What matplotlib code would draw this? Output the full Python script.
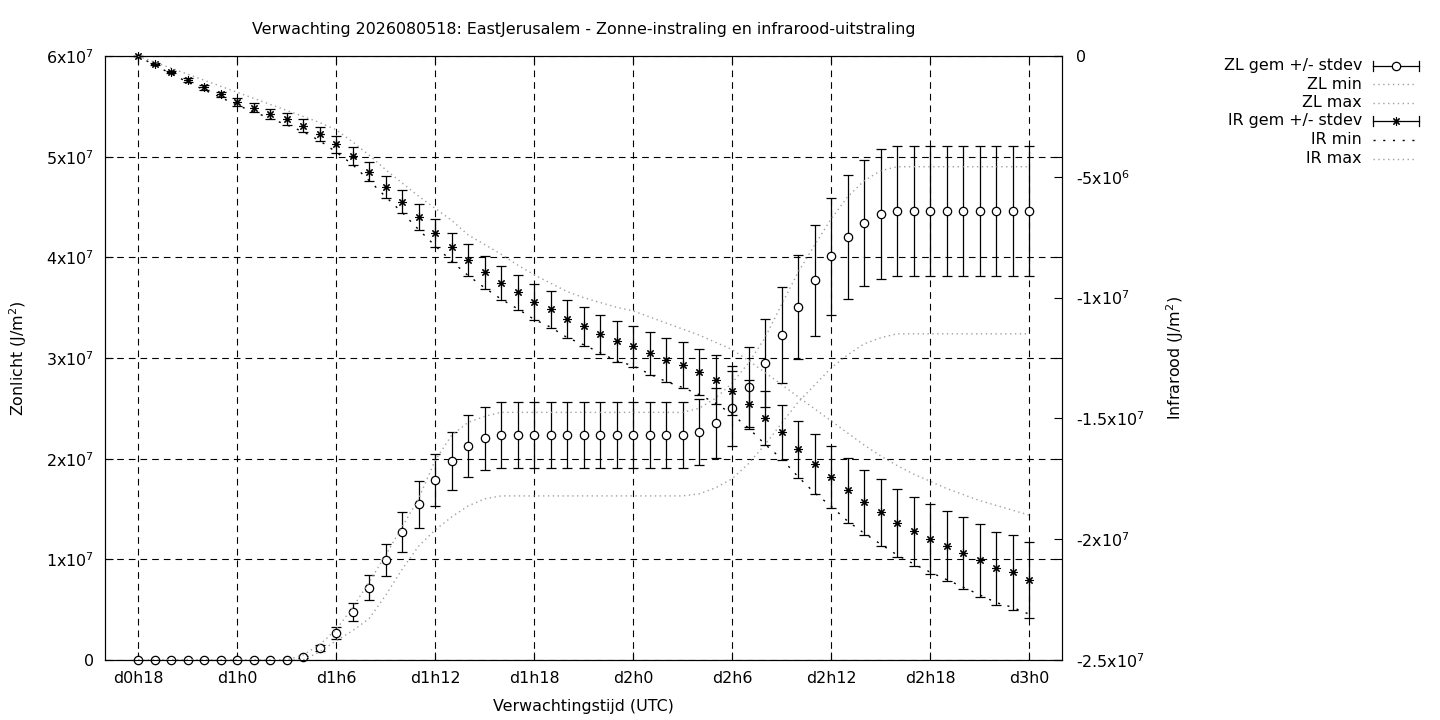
import numpy as np
import matplotlib
matplotlib.use('Agg')
import matplotlib.pyplot as plt
from matplotlib.ticker import FixedLocator, FuncFormatter

plt.rcParams['font.family'] = ['DejaVu Sans']
plt.rcParams['mathtext.default'] = 'regular'
FS = 11.4

# ---------------- data ----------------
hours = list(range(18, 73))  # forecast hours d0h18 .. d3h0
tick_hours = [18, 24, 30, 36, 42, 48, 54, 60, 66, 72]
tick_labels = ['d0h18', 'd1h0', 'd1h6', 'd1h12', 'd1h18', 'd2h0',
               'd2h6', 'd2h12', 'd2h18', 'd3h0']

# Zonlicht (x1e6 J/m2)
zl_mean = [0, 0, 0, 0, 0, 0, 0, 0, 0, 0,
           0.27, 1.2, 2.68, 4.74, 7.2, 9.93, 12.68, 15.47, 17.88, 19.77, 21.23, 22.02,
           22.32, 22.32, 22.32, 22.32, 22.32, 22.32, 22.32, 22.32, 22.32, 22.32, 22.32, 22.32,
           22.65, 23.51, 25.0, 27.12, 29.5, 32.3, 35.1, 37.7, 40.1, 42.0, 43.4, 44.3,
           44.6, 44.6, 44.6, 44.6, 44.6, 44.6, 44.6, 44.6, 44.6]
zl_sd = [0, 0, 0, 0, 0, 0, 0, 0, 0, 0,
         0.1, 0.3, 0.55, 0.9, 1.24, 1.59, 1.99, 2.35, 2.63, 2.88, 3.06, 3.16,
         3.28, 3.28, 3.28, 3.28, 3.28, 3.28, 3.28, 3.28, 3.28, 3.28, 3.28, 3.28,
         3.26, 3.48, 3.72, 4.0, 4.37, 4.74, 5.17, 5.56, 5.84, 6.17, 6.29, 6.44,
         6.49, 6.49, 6.49, 6.49, 6.49, 6.49, 6.49, 6.49, 6.49]
zl_min = [0, 0, 0, 0, 0, 0, 0, 0, 0, 0, 0,
          0.8, 1.9, 2.9, 4.1, 6.4, 9.0, 11.3, 12.9, 14.2, 15.3, 16.0,
          16.3, 16.3, 16.3, 16.3, 16.3, 16.3, 16.3, 16.3, 16.3, 16.3, 16.3, 16.3,
          16.5, 17.1, 18.0, 19.5, 21.4, 23.5, 25.6, 27.3, 29.0, 30.3, 31.4, 32.0,
          32.4, 32.4, 32.4, 32.4, 32.4, 32.4, 32.4, 32.4, 32.4]
zl_max = [0, 0, 0, 0, 0, 0, 0, 0, 0, 0,
          0.5, 1.5, 3.0, 5.2, 7.7, 10.4, 13.2, 16.0, 19.8, 22.3, 23.6, 24.2,
          24.6, 24.6, 24.6, 24.6, 24.6, 24.6, 24.6, 24.6, 24.6, 24.6, 24.6, 24.6,
          25.0, 26.0, 27.5, 29.5, 32.0, 35.3, 38.5, 41.2, 43.8, 46.0, 47.6, 48.6,
          49.0, 49.0, 49.0, 49.0, 49.0, 49.0, 49.0, 49.0, 49.0]

# Infrarood (x1e6 J/m2)
ir_mean = [0, -0.33, -0.66, -0.99, -1.30, -1.59, -1.89, -2.14, -2.39, -2.62,
           -2.88, -3.22, -3.66, -4.15, -4.79, -5.41, -6.03, -6.68, -7.31,
           -7.92, -8.46, -8.95, -9.40, -9.78, -10.19, -10.49, -10.90, -11.19,
           -11.51, -11.81, -12.02, -12.31, -12.60, -12.80, -13.09, -13.40, -13.85,
           -14.42, -15.00, -15.58, -16.28, -16.90, -17.41, -17.98, -18.47, -18.89,
           -19.32, -19.67, -20.00, -20.30, -20.58, -20.87, -21.20, -21.37, -21.69]
ir_sd = [0, 0.03, 0.05, 0.07, 0.09, 0.11, 0.16, 0.19, 0.21, 0.25,
         0.27, 0.30, 0.34, 0.37, 0.39, 0.45, 0.48, 0.54, 0.58,
         0.61, 0.66, 0.68, 0.70, 0.72, 0.75, 0.77, 0.79, 0.80,
         0.81, 0.86, 0.84, 0.89, 0.91, 0.96, 0.96, 1.01, 1.00,
         1.03, 1.12, 1.14, 1.18, 1.24, 1.28, 1.34, 1.35, 1.39,
         1.41, 1.43, 1.44, 1.45, 1.48, 1.51, 1.51, 1.55, 1.56]
ir_min = [0, -0.38, -0.73, -1.08, -1.40, -1.71, -2.03, -2.31, -2.58, -2.85,
          -3.13, -3.50, -3.97, -4.49, -5.15, -5.82, -6.47, -7.18, -7.85,
          -8.49, -9.08, -9.59, -10.06, -10.46, -10.90, -11.22, -11.65, -11.95,
          -12.28, -12.62, -12.82, -13.16, -13.47, -13.72, -14.01, -14.37, -14.82,
          -15.40, -16.07, -16.67, -17.41, -18.08, -18.63, -19.25, -19.75, -20.20,
          -20.65, -21.02, -21.36, -21.67, -21.98, -22.30, -22.62, -22.82, -23.10]
ir_max = [0, -0.25, -0.5, -0.75, -1.0, -1.25, -1.5, -1.75, -2.0, -2.25,
          -2.5, -2.75, -3.05, -3.55, -4.1, -4.7, -5.25, -5.8, -6.3,
          -6.8, -7.4, -7.8, -8.2, -8.65, -9.05, -9.4, -9.75, -10.0,
          -10.2, -10.4, -10.55, -10.8, -11.05, -11.3, -11.55, -11.85, -12.15,
          -12.6, -13.1, -13.6, -14.1, -14.6, -15.1, -15.6, -16.1, -16.55,
          -16.95, -17.3, -17.6, -17.9, -18.15, -18.4, -18.6, -18.8, -19.0]

scale = 1e6
x = np.array(hours)
zm, zs = np.array(zl_mean) * scale, np.array(zl_sd) * scale
im, isd = np.array(ir_mean) * scale, np.array(ir_sd) * scale

# ---------------- figure ----------------
W, H = 1440, 720
fig = plt.figure(figsize=(W / 100, H / 100), dpi=100)
ax = fig.add_axes([105 / W, 60 / H, 957 / W, 604 / H])
ax2 = ax.twinx()

GRAY = '#a0a0a0'
fine_dot = (0, (1, 2.5))
sparse_dot = (0, (1.5, 5.5))


def sci(v, pos=None):
    if abs(v) < 1e-9:
        return '0'
    e = int(np.floor(np.log10(abs(v)) + 1e-9))
    m = v / 10 ** e
    return '%gx10$^{%d}$' % (round(m, 3), e)


ax.set_xlim(16, 74)
ax.set_ylim(0, 6e7)
ax2.set_ylim(-2.5e7, 0)

ax.xaxis.set_major_locator(FixedLocator(tick_hours))
ax.set_xticklabels(tick_labels)
ax.yaxis.set_major_locator(FixedLocator([0, 1e7, 2e7, 3e7, 4e7, 5e7, 6e7]))
ax.yaxis.set_major_formatter(FuncFormatter(sci))
ax2.yaxis.set_major_locator(FixedLocator([0, -5e6, -1e7, -1.5e7, -2e7, -2.5e7]))
ax2.yaxis.set_major_formatter(FuncFormatter(sci))

ax.grid(True, color='black', linestyle=(0, (6, 4.5)), linewidth=0.8)
ax.set_axisbelow(True)

ax.tick_params(direction='in', length=6, width=0.8, top=True, right=True,
               labelsize=FS, pad=8)
ax2.tick_params(direction='in', length=6, width=0.8, labelsize=FS, pad=10)
for a in (ax, ax2):
    for s in a.spines.values():
        s.set_linewidth(0.8)

# ZL
ax.errorbar(x, zm, yerr=zs, fmt='none', ecolor='black', elinewidth=0.9,
            capsize=3.6, capthick=0.9, zorder=3, clip_on=False)
ax.plot(x, zm, linestyle='none', marker='o', ms=6, mfc='white', mec='black',
        mew=0.9, zorder=4, clip_on=False)
ax.plot(x, np.array(zl_min) * scale, color=GRAY, linestyle=fine_dot, lw=1, zorder=5)
ax.plot(x, np.array(zl_max) * scale, color=GRAY, linestyle=fine_dot, lw=1, zorder=5)

# IR
ax2.errorbar(x, im, yerr=isd, fmt='none', ecolor='black', elinewidth=0.9,
             capsize=3.6, capthick=0.9, zorder=3, clip_on=False)
ax2.plot(x, im, linestyle='none', marker=(8, 2, 0), ms=6, mec='black',
         mew=0.8, zorder=4, clip_on=False)
ax2.plot(x, np.array(ir_min) * scale, color='black', linestyle=sparse_dot, lw=1, zorder=5)
ax2.plot(x, np.array(ir_max) * scale, color=GRAY, linestyle=fine_dot, lw=1, zorder=5)

# labels
ax.set_title('Verwachting 2026080518: EastJerusalem - Zonne-instraling en infrarood-uitstraling',
             fontsize=FS, y=1.0447, va='center', pad=0)
ax.set_xlabel('Verwachtingstijd (UTC)', fontsize=FS, va='center')
ax.xaxis.set_label_coords(0.5, -0.0762)
ax.set_ylabel('Zonlicht (J/m$^2$)', fontsize=FS, va='center')
ax.yaxis.set_label_coords(-0.0909, 0.5)
ax2.set_ylabel('Infrarood (J/m$^2$)', fontsize=FS, va='center', rotation=90)
ax2.yaxis.set_label_coords(1.118, 0.5)

# legend (drawn in figure pixel space)
lg = fig.add_axes([0, 0, 1, 1], facecolor='none')
lg.set_xlim(0, W)
lg.set_ylim(H, 0)
lg.axis('off')
names = ['ZL gem +/- stdev', 'ZL min', 'ZL max', 'IR gem +/- stdev', 'IR min', 'IR max']
row_y = [65.7, 84.3, 102.7, 121.0, 140.0, 158.7]
x0, x1 = 1373, 1419
for i, (nm, yy) in enumerate(zip(names, row_y)):
    lg.text(1362, yy, nm, ha='right', va='center', fontsize=FS)
    if i in (0, 3):
        lg.plot([x0, x1], [yy, yy], color='black', lw=0.9)
        lg.plot([x0, x0], [yy - 5, yy + 5], color='black', lw=0.9)
        lg.plot([x1, x1], [yy - 5, yy + 5], color='black', lw=0.9)
        if i == 0:
            lg.plot([(x0 + x1) / 2], [yy], marker='o', ms=6, mfc='white',
                    mec='black', mew=0.9)
        else:
            lg.plot([(x0 + x1) / 2], [yy], marker=(8, 2, 0), ms=6, mec='black', mew=0.8)
    elif i == 4:
        lg.plot([x0, x1 - 3], [yy, yy], color='black', linestyle=sparse_dot, lw=1)
    else:
        lg.plot([x0, x1 - 3], [yy, yy], color=GRAY, linestyle=fine_dot, lw=1)

fig.savefig('out.png', dpi=100)
